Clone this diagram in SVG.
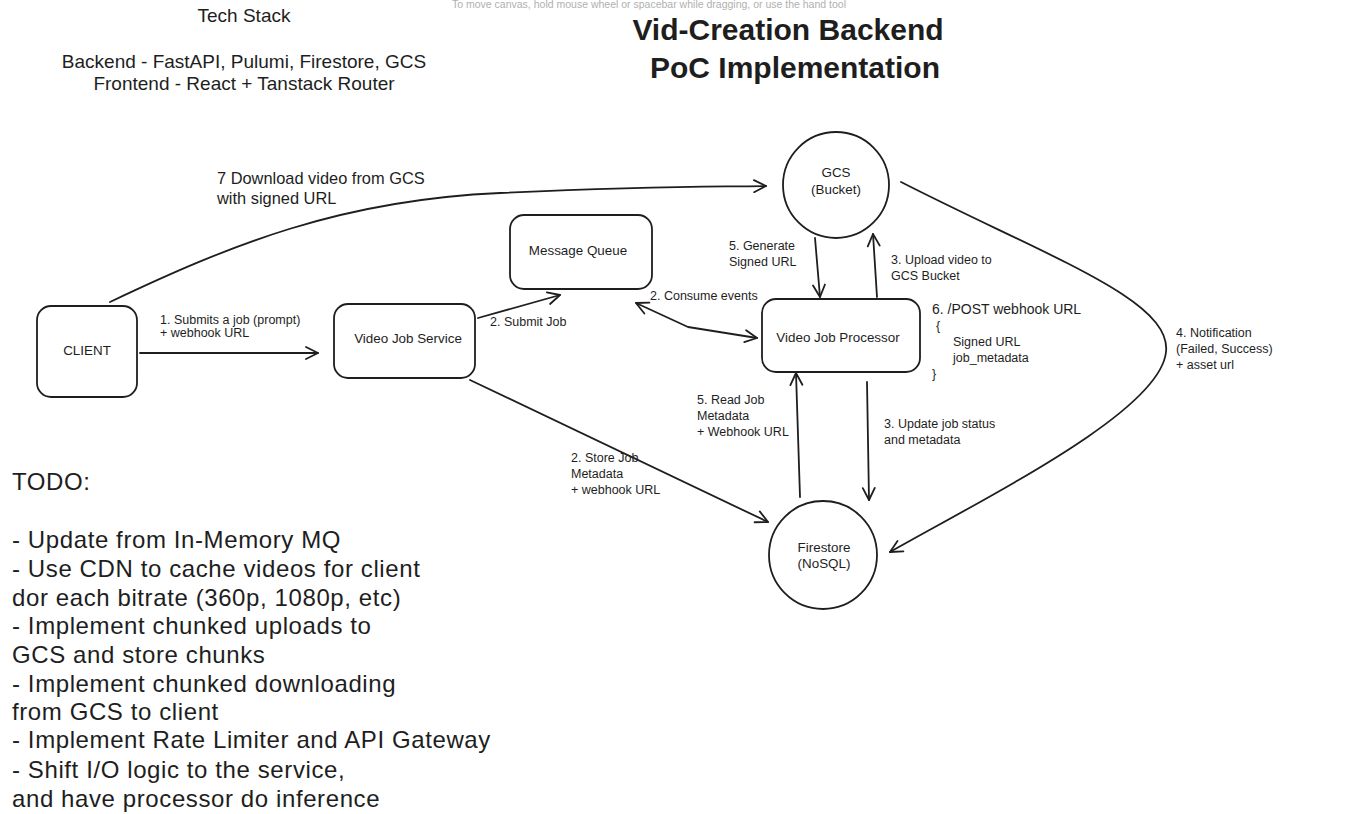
<svg xmlns="http://www.w3.org/2000/svg" width="1359" height="814" viewBox="0 0 1359 814">
<defs>
<marker id="arr" markerUnits="userSpaceOnUse" markerWidth="16" markerHeight="16" refX="14" refY="8" orient="auto-start-reverse">
<path d="M2,2 L14,8 L2,14" fill="none" stroke="#1e1e1e" stroke-width="1.8" stroke-linecap="round" stroke-linejoin="round"/>
</marker>
<radialGradient id="shade" cx="0.5" cy="1" r="0.6">
<stop offset="0" stop-color="#d8d8d8" stop-opacity="0.9"/>
<stop offset="1" stop-color="#ffffff" stop-opacity="0"/>
</radialGradient>
<style>
text{font-family:"Liberation Sans","DejaVu Sans",sans-serif;fill:#1e1e1e}
.node{fill:#ffffff;stroke:#1e1e1e;stroke-width:1.8}
.nt{font-size:13.4px;text-anchor:middle}
.lbl{font-size:12.5px}
.mid{font-size:14px}
.todo{font-size:24px;letter-spacing:0.6px}
.conn path,.conn line,.conn polyline{fill:none;stroke:#1e1e1e;stroke-width:1.8;stroke-linecap:round;stroke-linejoin:round}
</style>
</defs>
<rect width="1359" height="814" fill="#ffffff"/>
<ellipse cx="700" cy="835" rx="520" ry="50" fill="url(#shade)"/>
<text x="649" y="8" font-size="10.5" text-anchor="middle" style="fill:#b0b0b0">To move canvas, hold mouse wheel or spacebar while dragging, or use the hand tool</text>

<g id="title">
<text x="788" y="40" font-size="30" font-weight="bold" text-anchor="middle">Vid-Creation Backend</text>
<text x="795" y="78" font-size="30" font-weight="bold" text-anchor="middle">PoC Implementation</text>
</g>
<g id="techstack">
<text x="244" y="22" font-size="19" text-anchor="middle">Tech Stack</text>
<text x="244" y="68" font-size="19" text-anchor="middle">Backend - FastAPI, Pulumi, Firestore, GCS</text>
<text x="244" y="90" font-size="19" text-anchor="middle">Frontend - React + Tanstack Router</text>
</g>

<g id="connectors" class="conn">
<line x1="140" y1="353" x2="318" y2="353" marker-end="url(#arr)"/>
<line x1="478" y1="318" x2="560" y2="295" marker-end="url(#arr)"/>
<polyline points="636,303 688,327 757,338" marker-start="url(#arr)" marker-end="url(#arr)"/>
<line x1="815" y1="238" x2="820" y2="297" marker-end="url(#arr)"/>
<line x1="877" y1="297" x2="873" y2="234" marker-end="url(#arr)"/>
<line x1="867" y1="382" x2="869" y2="500" marker-end="url(#arr)"/>
<line x1="800" y1="497" x2="796" y2="373" marker-end="url(#arr)"/>
<line x1="470" y1="380" x2="768" y2="522" marker-end="url(#arr)"/>
<path d="M110,302 C230,245 340,200 500,193 S700,187 766,186" marker-end="url(#arr)"/>
<path d="M901,182 C1050,258 1172,300 1166,352 C1160,410 1000,490 890,552" marker-end="url(#arr)"/>
</g>

<g id="labels">
<text class="lbl" x="160" y="324">1. Submits a job (prompt)</text>
<text class="lbl" x="160" y="337">+ webhook URL</text>
<text class="lbl" x="490" y="326">2. Submit Job</text>
<text class="lbl" x="650" y="300">2. Consume events</text>
<text class="lbl" x="729" y="250">5. Generate</text>
<text class="lbl" x="729" y="266">Signed URL</text>
<text class="lbl" x="891" y="264">3. Upload video to</text>
<text class="lbl" x="891" y="280">GCS Bucket</text>
<text class="mid" x="932" y="314">6. /POST webhook URL</text>
<text class="lbl" x="936" y="330">{</text>
<text class="lbl" x="953" y="346">Signed URL</text>
<text class="lbl" x="953" y="362">job_metadata</text>
<text class="lbl" x="932" y="378">}</text>
<text class="lbl" x="884" y="428">3. Update job status</text>
<text class="lbl" x="884" y="444">and metadata</text>
<text class="lbl" x="697" y="404">5. Read Job</text>
<text class="lbl" x="697" y="420">Metadata</text>
<text class="lbl" x="697" y="436">+ Webhook URL</text>
<text class="lbl" x="571" y="462">2. Store Job</text>
<text class="lbl" x="571" y="478">Metadata</text>
<text class="lbl" x="571" y="494">+ webhook URL</text>
<text x="217" y="184" font-size="16.4">7 Download video from GCS</text>
<text x="217" y="204" font-size="16.4">with signed URL</text>
<text class="lbl" x="1176" y="337">4. Notification</text>
<text class="lbl" x="1176" y="353">(Failed, Success)</text>
<text class="lbl" x="1176" y="369">+ asset url</text>
</g>

<g id="client">
<rect class="node" x="37" y="306" width="100" height="91" rx="14"/>
<text class="nt" x="87" y="355">CLIENT</text>
</g>
<g id="video-job-service">
<rect class="node" x="334" y="304" width="141" height="74" rx="14"/>
<text class="nt" x="408" y="343">Video Job Service</text>
</g>
<g id="message-queue">
<rect class="node" x="510" y="215" width="142" height="74" rx="14"/>
<text class="nt" x="578" y="255">Message Queue</text>
</g>
<g id="video-job-processor">
<rect class="node" x="762" y="299" width="158" height="73" rx="14"/>
<text class="nt" x="838" y="342">Video Job Processor</text>
</g>
<g id="gcs">
<circle class="node" cx="836" cy="185" r="53"/>
<text class="nt" x="836" y="177">GCS</text>
<text class="nt" x="836" y="194">(Bucket)</text>
</g>
<g id="firestore">
<circle class="node" cx="823" cy="555" r="54"/>
<text class="nt" x="824" y="552">Firestore</text>
<text class="nt" x="824" y="568">(NoSQL)</text>
</g>

<g id="todo">
<text class="todo" x="12" y="490">TODO:</text>
<text class="todo" x="12" y="548">- Update from In-Memory MQ</text>
<text class="todo" x="12" y="577">- Use CDN to cache videos for client</text>
<text class="todo" x="12" y="606">dor each bitrate (360p, 1080p, etc)</text>
<text class="todo" x="12" y="634">- Implement chunked uploads to</text>
<text class="todo" x="12" y="663">GCS and store chunks</text>
<text class="todo" x="12" y="692">- Implement chunked downloading</text>
<text class="todo" x="12" y="720">from GCS to client</text>
<text class="todo" x="12" y="748">- Implement Rate Limiter and API Gateway</text>
<text class="todo" x="12" y="778">- Shift I/O logic to the service,</text>
<text class="todo" x="12" y="807">and have processor do inference</text>
</g>
</svg>
